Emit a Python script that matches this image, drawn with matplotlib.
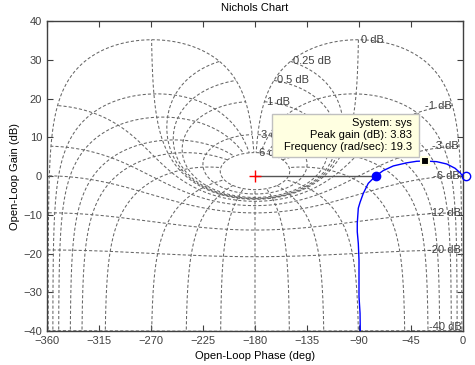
import numpy as np
import matplotlib.pyplot as plt
from matplotlib.patches import Rectangle

plt.rcParams['font.family'] = ['Liberation Sans', 'DejaVu Sans']

# closed-loop grid levels (dB for gain contours, deg for phase contours)
gain_levels_db = [6, 3, 1, 0.5, 0.25, 0, -1, -3, -6, -12, -20, -40, -60]
phase_levels_deg = [1, 5, 10, 20, 30, 50, 90, 120, 150, 180]

# open-loop response
resp_phase = [-88.9, -89.1, -90.0, -90.0, -90.6, -91.5, -91.5, -90.6, -89.1,
              -86.3, -82.0, -75.6, -69.0, -60.3, -48.7, -40.1, -32.9, -22.8,
              -14.1, -6.9, -2.6, -0.3]
resp_gain = [-40.0, -35.4, -31.1, -21.7, -17.4, -14.4, -12.2, -8.3, -6.8,
             -4.5, -1.9, 0.0, 1.4, 2.6, 3.4, 3.8, 3.87, 3.7,
             3.1, 2.0, 0.85, 0.0]

peak_phase, peak_gain = -32.9, 3.83
crossover_phase = -75.6
end_phase = 2.2
tip_lines = ["System: sys", "Peak gain (dB): 3.83", "Frequency (rad/sec): 19.3"]

grid_col = '#666666'
text_col = '#404040'


def nichols_point(m, psi_deg):
    """Open-loop phase/gain for closed-loop magnitude m and phase psi."""
    psi = np.radians(psi_deg)
    re = 1 - m * np.cos(psi)
    im = -m * np.sin(psi)
    phase = psi_deg - np.degrees(np.arctan2(im, re))
    gain = 20 * np.log10(m / np.hypot(re, im))
    return phase, gain


fig = plt.figure(figsize=(4.75, 3.65), dpi=100)
ax = fig.add_axes([47 / 475, 34 / 365, 416 / 475, 310 / 365])

dash = (3.0, 2.0)

# constant closed-loop gain contours
psi = np.linspace(-1, -359, 4001)
for g in gain_levels_db:
    ph, gn = nichols_point(10 ** (g / 20), psi)
    ax.plot(ph, gn, color=grid_col, lw=0.75, dashes=dash)

# constant closed-loop phase contours
m_db = np.sort(np.concatenate([np.linspace(-80, 6, 3000), np.linspace(-0.6, 0.6, 800)]))
m = 10 ** (m_db / 20)
for p in phase_levels_deg:
    for psi_c in {-p, -360 + p}:
        ph, gn = nichols_point(m, psi_c)
        ax.plot(ph, gn, color=grid_col, lw=0.75, dashes=dash)

# contour labels
for g in gain_levels_db:
    ph, gn = nichols_point(10 ** (g / 20), -1.0)
    if gn < -40:
        continue
    gn = max(gn, -39.0)
    if g >= 0:
        ax.text(ph + 2.4, gn, f"{g:g} dB", ha='left', va='center',
                fontsize=8, color=text_col)
    else:
        ax.text(ph - 0.4, gn, f"{g:g} dB", ha='right', va='center',
                fontsize=8, color=text_col)

# response and markers
ax.plot([-180, crossover_phase], [0, 0], color='#555555', lw=1.0, zorder=4)
ax.plot(resp_phase, resp_gain, color='#0000ff', lw=1.0, zorder=5)
ax.plot(crossover_phase, 0, 'o', color='#0000ff', ms=6, zorder=6)
ax.plot(-180, 0, '+', color='#ff0000', ms=8, mew=1.0, zorder=6)
ax.plot(end_phase, 0, 'o', mfc='none', mec='#0000ff', ms=6, mew=1.0,
        clip_on=False, zorder=6)
ax.plot(peak_phase, peak_gain, 's', color='black', ms=6, mec='#ffffe1',
        mew=1.5, zorder=8)

# data tip
ax.add_patch(Rectangle((-165.3, 4.9), 127.2, 11.1, facecolor='#ffffe1',
                       edgecolor='#c0c0c0', lw=1.0, zorder=7))
for i, line in enumerate(tip_lines):
    ax.text(-44.1, 13.7 - 3.1 * i, line, ha='right', va='center', fontsize=8,
            color='black', zorder=8)

ax.set_xlim(-360, 0)
ax.set_ylim(-40, 40)
ax.set_xticks(np.arange(-360, 1, 45))
ax.set_yticks(np.arange(-40, 41, 10))
ax.tick_params(direction='in', length=4, top=True, right=True,
               labelsize=8, colors=text_col, width=0.8)
for s in ax.spines.values():
    s.set_color('#404040')
    s.set_linewidth(1.0)

ax.set_title('Nichols Chart', fontsize=8, pad=7)
ax.set_xlabel('Open-Loop Phase (deg)', fontsize=8, labelpad=4)
ax.set_ylabel('Open-Loop Gain (dB)', fontsize=8, labelpad=2)

fig.savefig('out.png', dpi=100)
